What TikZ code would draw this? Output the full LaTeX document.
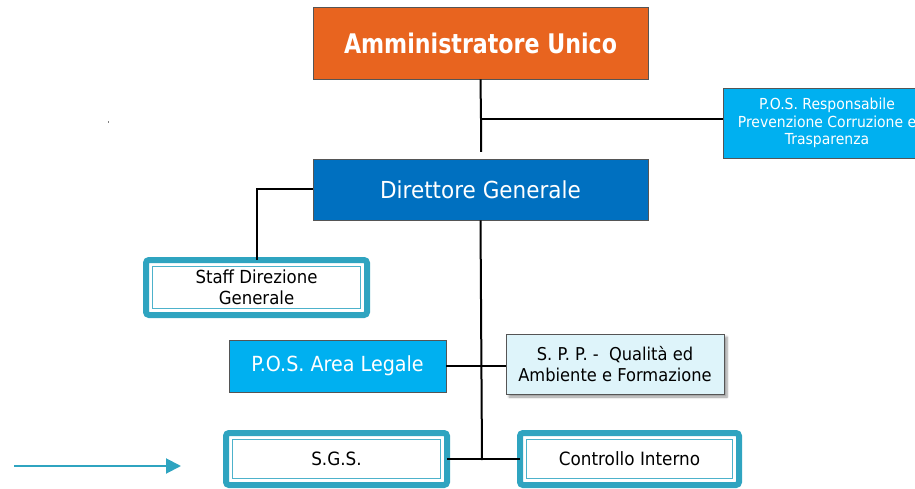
\documentclass[tikz,border=0pt]{standalone}
\usepackage{fontspec}
\setmainfont{DejaVu Sans}[FakeStretch=0.92, BoldFeatures={FakeStretch=0.82}]
\usetikzlibrary{arrows.meta,shadows.blur}

\definecolor{orangebox}{HTML}{E8641F}
\definecolor{bluebox}{HTML}{0070C0}
\definecolor{skybox}{HTML}{00B0F0}
\definecolor{palebox}{HTML}{DEF4FA}
\definecolor{tealring}{HTML}{2FA4C0}
\definecolor{tealinner}{HTML}{4DB2CB}
\definecolor{edgegray}{HTML}{555555}

\newcommand{\fs}[1]{\fontsize{#1}{1.15\dimexpr#1pt\relax}\selectfont}

\tikzset{
  x=1pt, y=-1pt,
  solidbox/.style={draw=edgegray, line width=0.8pt, inner sep=0pt, align=center, text=white},
  ringbox/.style={draw=tealring, line width=6pt, rounded corners=3pt, fill=white,
    inner sep=0pt, outer sep=0pt, align=center, text=black},
  ringinner/.style={draw=tealinner, line width=1.6pt},
  link/.style={draw=black, line width=2pt},
  pointer/.style={draw=tealring, line width=2pt, -{Triangle[length=15pt,width=15pt]}}
}

\begin{document}
\begin{tikzpicture}
\useasboundingbox (0,0) rectangle (915,489);

% top management
\node[solidbox, fill=orangebox, minimum width=335pt, minimum height=72pt,
      font=\fs{27}\bfseries] (amm) at (480.5,43) {Amministratore Unico};
\node[solidbox, fill=bluebox, minimum width=335pt, minimum height=61pt,
      font=\fs{23.4}] (dir) at (480.5,189.5) {Direttore Generale};
\node[solidbox, fill=skybox, minimum width=208pt, minimum height=70pt,
      font=\fs{15.2}] (pos) at (827,123)
      {P.O.S. Responsabile\\Prevenzione Corruzione e\\Trasparenza};

% staff and offices
\node[ringbox, minimum width=221pt, minimum height=55pt, font=\fs{18}]
      (staff) at (256.5,287.5) {Staff Direzione\\Generale};
\node[solidbox, fill=skybox, minimum width=217pt, minimum height=52pt,
      font=\fs{20.8}] (legal) at (337.5,366) {P.O.S. Area Legale};
\node[solidbox, fill=palebox, text=black, minimum width=218pt, minimum height=60pt,
      font=\fs{17.7}, blur shadow={shadow xshift=3pt, shadow yshift=-3pt,
      shadow blur steps=6, shadow opacity=40}] (spp) at (615,364)
      {S. P. P. -\ \ Qualità ed\\Ambiente e Formazione};
\node[ringbox, minimum width=221pt, minimum height=52pt, font=\fs{18.3}]
      (sgs) at (336.5,459) {S.G.S.};
\node[ringbox, minimum width=219pt, minimum height=52pt, font=\fs{18.3}]
      (ctrl) at (629.5,459) {Controllo Interno};

% inner frames of the ringed boxes
\draw[ringinner] ([xshift=6.5pt,yshift=-6.5pt]staff.north west)
                 rectangle ([xshift=-6.5pt,yshift=6.5pt]staff.south east);
\draw[ringinner] ([xshift=6.5pt,yshift=-6.5pt]sgs.north west)
                 rectangle ([xshift=-6.5pt,yshift=6.5pt]sgs.south east);
\draw[ringinner] ([xshift=6.5pt,yshift=-6.5pt]ctrl.north west)
                 rectangle ([xshift=-6.5pt,yshift=6.5pt]ctrl.south east);

% connectors
\coordinate (jtop) at (481,119);
\coordinate (jdir) at (481,152);
\coordinate (jbot) at (482,460);
\draw[link] (amm.south) -- (jtop) -- (jdir);
\draw[link] (jtop) -- (jtop -| pos.west);
\draw[link] (dir.west) -| (staff.north);
\draw[link] (dir.south) -- (jbot);
\draw[link] (legal.east) -- (legal.east -| spp.west);
\draw[link] (sgs.east) -- (ctrl.west);

% side pointer
\coordinate (ptrA) at (14,466);
\coordinate (ptrB) at (181,466);
\draw[pointer] (ptrA) -- (ptrB);

% stray mark
\fill[gray] (107.5,121) rectangle (108.5,123);
\end{tikzpicture}
\end{document}
